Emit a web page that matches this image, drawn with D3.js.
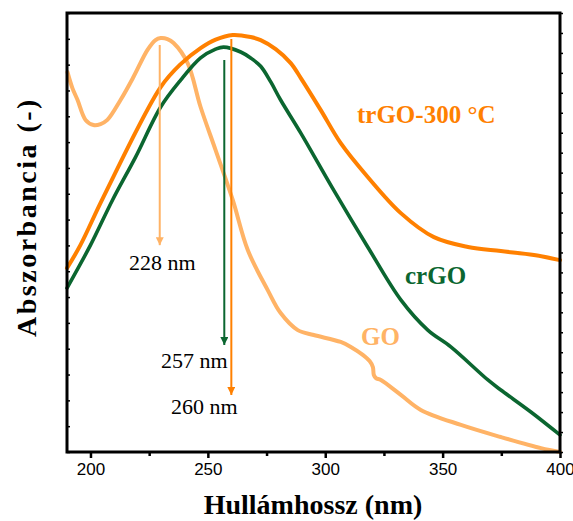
<!DOCTYPE html>
<html>
<head>
<meta charset="utf-8">
<script src="https://cdn.jsdelivr.net/npm/d3@7"></script>
<style>
  body { margin: 0; background: #fff; }
  svg { display: block; }
</style>
</head>
<body>
<script>
// basic setup
const width = 573;
const height = 521;
const marginTop = 13;
const marginBottom = 69;
const marginLeft = 67;
const marginRight = 13;

// data (wavelength nm, absorbance a.u.)
const trgoWave = [190, 195.7, 205.5, 229.9, 238.4, 246.9, 253.3, 260.6, 268.2, 272.5, 278.9, 285.3, 289.6, 298.1, 306.6, 318.1, 332.2, 346.3, 360.8, 374.8, 388.9, 400];
const trgoAbs  = [0.712, 0.801, 0.987, 1.413, 1.502, 1.564, 1.597, 1.615, 1.607, 1.595, 1.560, 1.506, 1.448, 1.324, 1.196, 1.065, 0.925, 0.832, 0.794, 0.778, 0.763, 0.743];

const crgoWave = [190, 200, 209.4, 219.2, 229.9, 238.4, 246.9, 253.3, 256.7, 264.0, 268.2, 272.5, 276.8, 281.0, 289.6, 303.6, 318.1, 332.2, 343.7, 353.5, 369.3, 374.8, 387.6, 400];
const crgoAbs  = [0.635, 0.801, 0.976, 1.142, 1.336, 1.440, 1.526, 1.560, 1.568, 1.549, 1.526, 1.494, 1.433, 1.363, 1.235, 1.014, 0.794, 0.589, 0.472, 0.407, 0.279, 0.240, 0.155, 0.066];

const goWave = [190.2, 192.3, 194.5, 197.9, 201.3, 204.3, 207.2, 212.8, 218.3, 224.3, 227.7, 229.9, 232.8, 235.4, 241.4, 246.9, 253.3, 260.6, 267.0, 275.5, 281.0, 288.3, 295.1, 306.6, 310.9, 316.0, 318.9, 320.3, 320.7, 321.6, 323.7, 332.2, 340.7, 357.8, 374.8, 391.9, 400];
const goAbs  = [1.471, 1.409, 1.363, 1.286, 1.266, 1.270, 1.286, 1.363, 1.452, 1.557, 1.595, 1.603, 1.599, 1.584, 1.506, 1.336, 1.169, 0.976, 0.782, 0.627, 0.538, 0.472, 0.453, 0.426, 0.407, 0.376, 0.352, 0.329, 0.298, 0.286, 0.279, 0.221, 0.163, 0.105, 0.058, 0.015, 0.0];

// peak markers: wavelength, arrow top, arrow tip, label
const peakNames  = ['GO', 'crGO', 'trGO'];
const peakWave   = [229.5, 257, 260];
const peakTop    = [1.576, 1.518, 1.599];
const peakTip    = [0.801, 0.414, 0.221];
const peakLabels = ['228 nm', '257 nm', '260 nm'];

const xMajorTicks = [200, 250, 300, 350, 400];
const xMinorTicks = [225, 275, 325, 375];

const colors = {
  trGO: '#ff8000',
  crGO: '#0b6630',
  GO: '#ffb366'
};

const svg = d3.select('body')
  .append('svg')
  .attr('width', width)
  .attr('height', height);

const x = d3.scaleLinear()
  .domain([190, 400])
  .range([marginLeft, width - marginRight]);

const y = d3.scaleLinear()
  .domain([0, 1.7])
  .range([height - marginBottom, marginTop]);

// right side has finer tick spacing
const yRight = d3.scaleLinear()
  .domain([0, 2.2])
  .range([height - marginBottom, marginTop]);

const chart_g = svg.append('g');

const line = d3.line()
  .x(d => x(d[0]))
  .y(d => y(d[1]))
  .curve(d3.curveCatmullRom.alpha(0.5));

function drawSeries(wave, abs, color, w) {
  chart_g.append('path')
    .datum(wave.map((v, i) => [v, abs[i]]))
    .attr('d', line)
    .attr('fill', 'none')
    .attr('stroke', color)
    .attr('stroke-width', w)
    .attr('stroke-linejoin', 'round')
    .attr('stroke-linecap', 'round');
}

drawSeries(goWave, goAbs, colors.GO, 4);
drawSeries(trgoWave, trgoAbs, colors.trGO, 4);
drawSeries(crgoWave, crgoAbs, colors.crGO, 3.6);

// arrows
const defs = svg.append('defs');
peakNames.forEach((name, i) => {
  defs.append('marker')
    .attr('id', 'arrow-' + name)
    .attr('viewBox', '0 0 10 10')
    .attr('refX', 10)
    .attr('refY', 5)
    .attr('markerWidth', 5)
    .attr('markerHeight', 4)
    .attr('markerUnits', 'strokeWidth')
    .attr('orient', 'auto')
    .append('path')
    .attr('d', 'M0,0 L10,5 L0,10 Z')
    .attr('fill', colors[name]);
});

peakNames.forEach((name, i) => {
  chart_g.append('line')
    .attr('x1', x(peakWave[i]))
    .attr('x2', x(peakWave[i]))
    .attr('y1', y(peakTop[i]))
    .attr('y2', y(peakTip[i]))
    .attr('stroke', colors[name])
    .attr('stroke-width', 2)
    .attr('marker-end', 'url(#arrow-' + name + ')');
});

// peak labels
const labelPos = [[129, 270], [161, 368], [171, 414]];
peakLabels.forEach((t, i) => {
  svg.append('text')
    .attr('x', labelPos[i][0])
    .attr('y', labelPos[i][1])
    .attr('font-family', '"Liberation Serif", "Times New Roman", serif')
    .attr('font-size', 22)
    .attr('fill', '#000')
    .text(t);
});

// series names
const seriesLabels = [
  { text: 'trGO-300 °C', color: colors.trGO, x: 357, y: 123 },
  { text: 'crGO', color: colors.crGO, x: 405, y: 284 },
  { text: 'GO', color: colors.GO, x: 361, y: 345 }
];
seriesLabels.forEach(s => {
  svg.append('text')
    .attr('x', s.x)
    .attr('y', s.y)
    .attr('font-family', '"Liberation Serif", "Times New Roman", serif')
    .attr('font-weight', 'bold')
    .attr('font-size', 25)
    .attr('fill', s.color)
    .text(s.text);
});

// axes
const axisBottom = svg.append('g')
  .attr('transform', `translate(0,${height - marginBottom})`)
  .call(d3.axisBottom(x).tickValues(xMajorTicks).tickSize(6).tickFormat(d3.format('d')));
axisBottom.select('.domain').remove();
axisBottom.selectAll('.tick line').attr('stroke', '#000').attr('stroke-width', 2.5);
axisBottom.selectAll('.tick text')
  .attr('font-family', '"Liberation Sans", Arial, sans-serif')
  .attr('font-size', 17)
  .attr('fill', '#000')
  .attr('dy', '0.71em')
  .attr('y', 11);

const axisMinor = svg.append('g')
  .attr('transform', `translate(0,${height - marginBottom})`)
  .call(d3.axisBottom(x).tickValues(xMinorTicks).tickSize(4).tickFormat(''));
axisMinor.select('.domain').remove();
axisMinor.selectAll('.tick line').attr('stroke', '#000').attr('stroke-width', 2.5);

const axisLeft = svg.append('g')
  .attr('transform', `translate(${marginLeft},0)`)
  .call(d3.axisRight(y).ticks(17).tickSize(3).tickFormat(''));
axisLeft.select('.domain').remove();
axisLeft.selectAll('.tick line').attr('stroke', '#000').attr('stroke-width', 1.5);

const axisRight = svg.append('g')
  .attr('transform', `translate(${width - marginRight},0)`)
  .call(d3.axisRight(yRight).ticks(22).tickSize(3).tickFormat(''));
axisRight.select('.domain').remove();
axisRight.selectAll('.tick line').attr('stroke', '#000').attr('stroke-width', 1.5);

// frame
svg.append('rect')
  .attr('x', marginLeft)
  .attr('y', marginTop)
  .attr('width', width - marginLeft - marginRight)
  .attr('height', height - marginTop - marginBottom)
  .attr('fill', 'none')
  .attr('stroke', '#000')
  .attr('stroke-width', 3);

// axis titles
svg.append('text')
  .attr('x', 313)
  .attr('y', 514)
  .attr('text-anchor', 'middle')
  .attr('font-family', '"Liberation Serif", "Times New Roman", serif')
  .attr('font-weight', 'bold')
  .attr('font-size', 28)
  .text('Hullámhossz (nm)');

svg.append('text')
  .attr('transform', 'translate(36,217) rotate(-90)')
  .attr('text-anchor', 'middle')
  .attr('font-family', '"Liberation Serif", "Times New Roman", serif')
  .attr('font-weight', 'bold')
  .attr('font-size', 28)
  .attr('letter-spacing', 2.5)
  .text('Abszorbancia (-)');
</script>
</body>
</html>
